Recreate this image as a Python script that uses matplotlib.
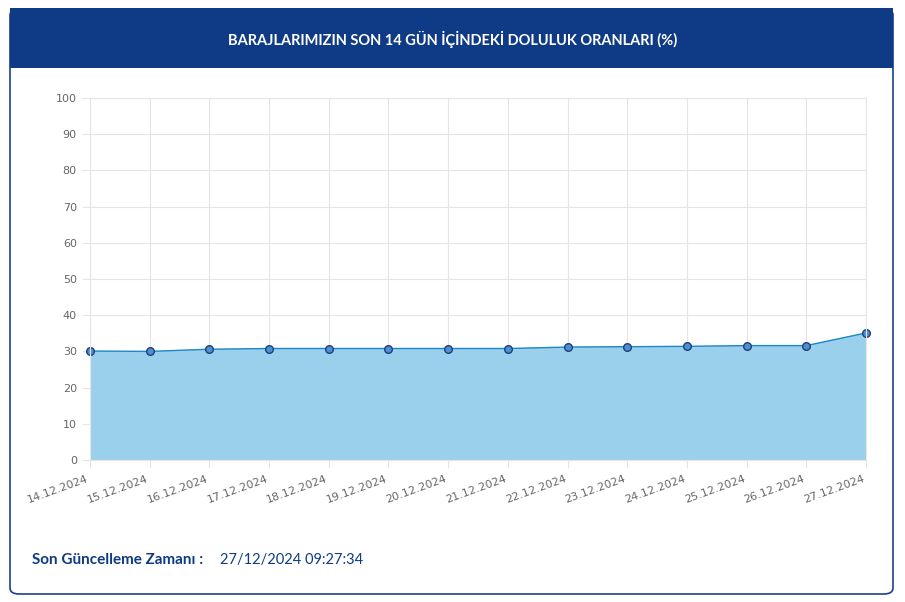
import matplotlib.pyplot as plt
from matplotlib.patches import FancyBboxPatch, Rectangle

dates = ["14.12.2024", "15.12.2024", "16.12.2024", "17.12.2024", "18.12.2024",
         "19.12.2024", "20.12.2024", "21.12.2024", "22.12.2024", "23.12.2024",
         "24.12.2024", "25.12.2024", "26.12.2024", "27.12.2024"]
fill_pct = [30.1, 30.0, 30.6, 30.8, 30.8, 30.8, 30.8, 30.8, 31.2, 31.3, 31.4, 31.6, 31.6, 35.1]
y_ticks = list(range(0, 101, 10))

W, H = 905, 602
fig = plt.figure(figsize=(W / 100, H / 100), dpi=100)
fig.patch.set_facecolor("white")

# card border and header band
card = FancyBboxPatch((10 / W, 8 / H), 883 / W, 585 / H, boxstyle="round,pad=0,rounding_size=0.01",
                      transform=fig.transFigure, facecolor="white", edgecolor="#1f3f8a", lw=1.2,
                      zorder=-2)
fig.patches.append(card)
fig.patches.append(Rectangle((10 / W, 1 - 68 / H), 883 / W, 60 / H, transform=fig.transFigure,
                             facecolor="#0f3a85", edgecolor="none", zorder=-1))
fig.text(0.5, 1 - 39 / H, "BARAJLARIMIZIN SON 14 GÜN İÇİNDEKİ DOLULUK ORANLARI (%)",
         ha="center", va="center", color="white", fontsize=10.5, fontweight="bold", family="Lato")

ax = fig.add_axes([90 / W, 1 - 460 / H, 776 / W, 362 / H])
ax.set_zorder(2)
ax.patch.set_alpha(0)
x = list(range(len(dates)))
ax.fill_between(x, fill_pct, color="#9ad0ec")
ax.plot(x, fill_pct, color="#1d87c9", lw=1, marker="o", ms=5.5,
        mfc="#4f8fd0", mec="#1e3f7a", mew=1, clip_on=False)
ax.set_xlim(0, len(dates) - 1)
ax.set_ylim(0, 100)
ax.set_yticks(y_ticks)
ax.set_xticks(x)
ax.set_xticklabels(dates, rotation=20, ha="right", fontsize=8, color="#666666")
ax.tick_params(axis="y", labelsize=8, colors="#666666", length=6, color="#e5e5e5")
ax.tick_params(axis="x", length=6, color="#e5e5e5")
ax.grid(color="#e5e5e5", lw=0.8)
ax.set_axisbelow(True)
for s in ax.spines.values():
    s.set_color("#e5e5e5")

fig.text(32 / W, 1 - 560 / H, "Son Güncelleme Zamanı :", ha="left", va="center",
         color="#0f3a85", fontsize=11, fontweight="bold", family="Lato")
fig.text(220 / W, 1 - 560 / H, "27/12/2024 09:27:34", ha="left", va="center",
         color="#0f3a85", fontsize=10.5, family="Lato")

fig.savefig("out.png", dpi=100)
